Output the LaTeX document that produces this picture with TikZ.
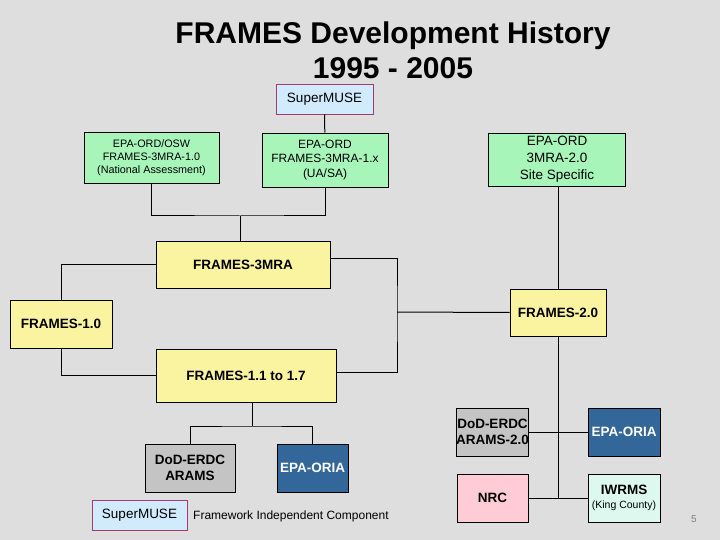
\documentclass[tikz,border=0pt]{standalone}
\usepackage{fontspec}
\setmainfont{Liberation Sans}
\definecolor{bg}{HTML}{DEDEDE}
\definecolor{grn}{HTML}{A8F5BA}
\definecolor{yel}{HTML}{FAF3A0}
\definecolor{lblue}{HTML}{D2EBFC}
\definecolor{pinkbd}{HTML}{A03A70}
\definecolor{gry}{HTML}{C4C4C4}
\definecolor{oria}{HTML}{336699}
\definecolor{nrcpink}{HTML}{FFCCD5}
\definecolor{iwr}{HTML}{DDF8EE}
\tikzset{
  box/.style={draw=black, line width=0.9pt, inner sep=0pt, align=center},
  greenbox/.style={box, fill=grn},
  yellowbox/.style={box, fill=yel, font=\fontsize{13.5}{16}\selectfont\bfseries},
  smbox/.style={box, draw=pinkbd, fill=lblue, font=\fontsize{13.5}{16}\selectfont},
  link/.style={line width=1pt, draw=black},
}
\begin{document}
\begin{tikzpicture}[x=1pt,y=-1pt]
\useasboundingbox[fill=bg] (0,0) rectangle (720,540);
% title
\node[anchor=base, font=\fontsize{30}{35}\selectfont\bfseries] (t1) at (393,44) {FRAMES Development History};
\node[anchor=base, font=\fontsize{30}{35}\selectfont\bfseries] (t2) at (393,79) {1995 - 2005};
% top row
\node[smbox, minimum width=97pt, minimum height=30pt] (smtop) at (324.5,99) {SuperMUSE};
\node[greenbox, minimum width=135pt, minimum height=51pt, font=\fontsize{10.8}{13}\selectfont] (osw) at (151.5,157.5) {EPA-ORD/OSW\\FRAMES-3MRA-1.0\\(National Assessment)};
\node[greenbox, minimum width=126pt, minimum height=54pt, font=\fontsize{12}{14.5}\selectfont] (r1x) at (325,160) {EPA-ORD\\FRAMES-3MRA-1.x\\(UA/SA)};
\node[greenbox, minimum width=137pt, minimum height=53pt, font=\fontsize{13.5}{17}\selectfont] (r20) at (557,159.5) {EPA-ORD\\3MRA-2.0\\Site Specific};
% middle
\node[yellowbox, minimum width=174pt, minimum height=47pt] (f3mra) at (243,264.5) {FRAMES-3MRA};
\node[yellowbox, minimum width=96pt, minimum height=47pt] (f20) at (558,312.5) {FRAMES-2.0};
\node[yellowbox, minimum width=102pt, minimum height=48pt] (f10) at (61,324) {FRAMES-1.0};
\node[yellowbox, minimum width=180pt, minimum height=53pt] (f11) at (246,375.5) {FRAMES-1.1 to 1.7};
% bottom left
\node[box, fill=gry, minimum width=90pt, minimum height=48pt, font=\fontsize{13.5}{16.5}\selectfont\bfseries] (arams) at (190,468) {DoD-ERDC\\ARAMS};
\node[box, fill=oria, text=white, minimum width=71pt, minimum height=48pt, font=\fontsize{13.5}{16}\selectfont\bfseries] (oria1) at (312.5,468) {EPA-ORIA};
% bottom right
\node[box, fill=gry, minimum width=71pt, minimum height=48pt, font=\fontsize{13.5}{16.5}\selectfont\bfseries] (arams2) at (492.5,432) {DoD-ERDC\\ARAMS-2.0};
\node[box, fill=oria, text=white, minimum width=72pt, minimum height=48pt, font=\fontsize{13.5}{16}\selectfont\bfseries] (oria2) at (624,432) {EPA-ORIA};
\node[box, fill=nrcpink, minimum width=71pt, minimum height=48pt, font=\fontsize{13.5}{16}\selectfont\bfseries] (nrc) at (492.5,498) {NRC};
\node[box, fill=iwr, minimum width=72pt, minimum height=48pt] (iwrms) at (624,498) {{\fontsize{13.5}{16}\selectfont\bfseries IWRMS}\\[2pt]{\fontsize{10.5}{12}\selectfont (King County)}};
% legend
\node[smbox, minimum width=95pt, minimum height=30pt] (smleg) at (139.5,515) {SuperMUSE};
\node[anchor=west, inner sep=0pt, font=\fontsize{12}{14}\selectfont] (legtxt) at (193,516) {Framework Independent Component};
\node[font=\fontsize{10}{12}\selectfont, text=gray] (pg) at (694,519) {5};
% connectors
\coordinate (j1) at (240,216);
\coordinate (j2) at (397,312);
\coordinate (j3) at (252,426);
\draw[link] (smtop) -- (r1x);
\draw[link] (osw.south) |- (j1) -| (r1x.south);
\draw[link] (j1) -- (j1 |- f3mra.north);
\draw[link] (f3mra.west) -| (f10.north);
\draw[link] (f10.south) |- (f11.west);
\draw[link] ([yshift=6.5pt]f3mra.east) -| (j2) |- ([yshift=3.5pt]f11.east);
\draw[link] (j2) -- (f20.west);
\draw[link] (f20.north) -- (f20.north |- r20.south);
\draw[link] (f20.south) -- (f20.south |- nrc.east);
\draw[link] (arams2.east) -- (oria2.west);
\draw[link] (nrc.east) -- (iwrms.west);
\draw[link] (j3 |- f11.south) -- (j3);
\draw[link] (arams.north) |- (j3) -| (oria1.north);
\end{tikzpicture}
\end{document}
